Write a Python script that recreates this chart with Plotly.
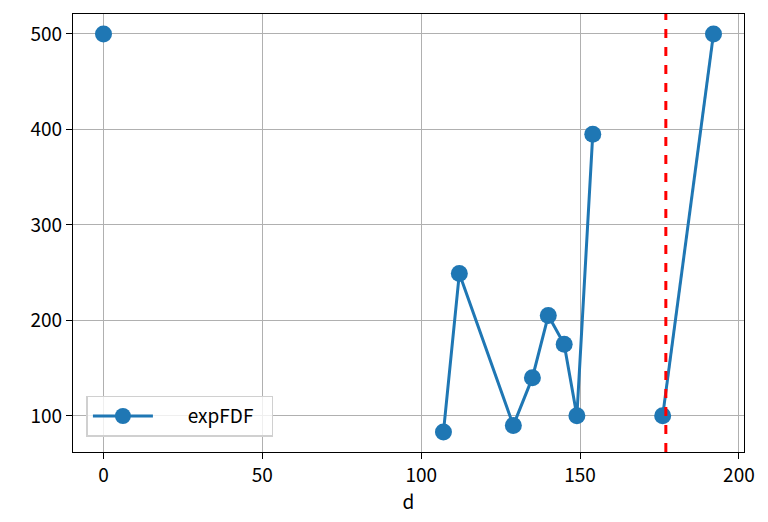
import plotly.graph_objects as go

# data (None marks breaks in the line)
d = [0, None, 107, 112, 129, 135, 140, 145, 149, 154, None, 176, 192]
expFDF = [500, None, 83, 249, 90, 140, 205, 175, 100, 395, None, 100, 500]
threshold = 177
series_name = "expFDF"

x_ticks = [0, 50, 100, 150, 200]
y_ticks = [100, 200, 300, 400, 500]

FONT = "Noto Sans CJK JP"
FS = 19

fig = go.Figure()
fig.add_trace(go.Scatter(
    x=d, y=expFDF, mode="lines+markers",
    name="\u00a0" * 7 + series_name + "\u00a0\u00a0\u00a0",
    line=dict(color="#1f77b4", width=3),
    marker=dict(color="#1f77b4", size=17),
    connectgaps=False,
))
fig.add_shape(type="line", xref="x", yref="paper",
              x0=threshold, x1=threshold, y0=0, y1=1,
              line=dict(color="red", width=3, dash="dash"))

axis_common = dict(
    showline=True, linecolor="black", linewidth=1.3, mirror=True,
    ticks="outside", ticklen=6, tickwidth=1.3, tickcolor="black",
    showgrid=True, gridcolor="#b0b0b0", gridwidth=1.3, zeroline=False,
    tickfont=dict(family=FONT, size=FS, color="black"),
    automargin=False,
)
fig.update_xaxes(range=[-9.6, 201.6], tickvals=x_ticks,
                 title=dict(text="d", font=dict(family=FONT, size=FS, color="black"), standoff=6),
                 **axis_common)
fig.update_yaxes(range=[62.15, 520.85], tickvals=y_ticks, **axis_common)

fig.update_layout(
    width=760, height=514,
    margin=dict(l=65, r=24, t=6, b=70),
    plot_bgcolor="white", paper_bgcolor="white",
    font=dict(family=FONT, size=FS, color="black"),
    showlegend=True,
    legend=dict(x=0.02, y=0.035, xanchor="left", yanchor="bottom",
                bgcolor="rgba(255,255,255,0.8)", bordercolor="#d0d0d0", borderwidth=1.5,
                font=dict(family=FONT, size=FS), itemwidth=60),
)

fig.write_html("out.html")
